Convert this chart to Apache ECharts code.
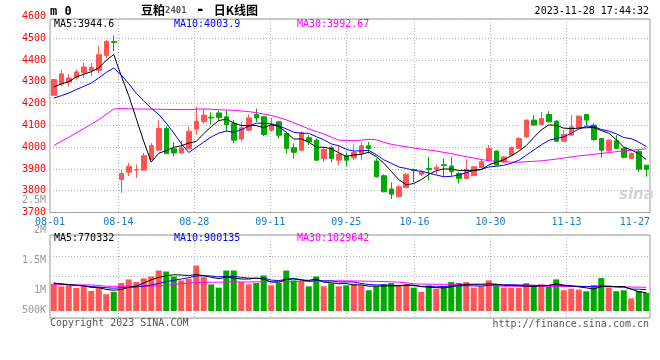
<!DOCTYPE html>
<html><head><meta charset="utf-8">
<script src="https://cdn.jsdelivr.net/npm/echarts@6/dist/echarts.min.js"></script>
<style>html,body{margin:0;padding:0;background:#fff}#c{width:660px;height:360px}</style>
</head><body><div id="c"></div>
<script>
// ---------------- data ----------------
const dates = ['08-01','08-02','08-03','08-04','08-07','08-08','08-09','08-10','08-11','08-14',
'08-15','08-16','08-17','08-18','08-21','08-22','08-23','08-24','08-25','08-28',
'08-29','08-30','08-31','09-01','09-04','09-05','09-06','09-07','09-08','09-11',
'09-12','09-13','09-14','09-15','09-18','09-19','09-20','09-21','09-22','09-25',
'09-26','09-27','09-28','10-09','10-10','10-11','10-12','10-13','10-16','10-17',
'10-18','10-19','10-20','10-23','10-24','10-25','10-26','10-27','10-30','10-31',
'11-01','11-02','11-03','11-06','11-07','11-08','11-09','11-10','11-13','11-14',
'11-15','11-16','11-17','11-20','11-21','11-22','11-23','11-24','11-27','11-28'];
const opens = [4238,4291,4299,4320,4343,4352,4352,4420,4484,3851,
3885,3895,3894,3943,3986,4085,3992,3973,3992,4083,
4116,4137,4157,4139,4108,4037,4078,4150,4139,4078,
4116,4063,3997,3986,4043,4032,3948,3997,3940,3960,
3951,3971,4006,3936,3869,3808,3772,3814,3896,3875,
3902,3899,3919,3913,3879,3856,3870,3907,3940,3982,
3932,3963,3994,4047,4124,4104,4150,4119,4027,4055,
4090,4150,4101,4040,3983,4029,3994,3948,3981,3917];
const closes = [4310,4336,4317,4345,4368,4366,4424,4485,4480,3879,
3912,3897,3961,4007,4085,3970,3973,3996,4073,4119,
4147,4134,4136,4104,4032,4089,4134,4134,4058,4101,
4055,3994,3976,4066,4024,3940,3989,3948,3968,3940,
3975,4006,3994,3864,3795,3784,3818,3875,3893,3887,
3898,3907,3915,3887,3856,3898,3910,3933,3994,3918,
3955,3998,4040,4124,4101,4131,4116,4027,4058,4093,
4142,4124,4035,3986,4032,3994,3953,3971,3899,3898];
const lows = [4236,4280,4279,4310,4317,4325,4340,4410,4440,3790,
3867,3859,3894,3943,3986,3970,3958,3973,3992,4057,
4108,4103,4124,4073,4017,4025,4073,4116,4050,4070,
4040,3971,3948,3982,4009,3936,3933,3930,3917,3913,
3940,3940,3971,3860,3792,3762,3768,3812,3838,3868,
3848,3875,3864,3869,3833,3853,3866,3905,3936,3916,
3928,3960,3990,4043,4100,4102,4115,4024,4024,4055,
4088,4098,4027,3951,3980,3993,3948,3945,3887,3864];
const highs = [4312,4352,4335,4355,4386,4386,4462,4493,4511,3897,
3928,3920,3973,4019,4123,4096,4022,4030,4093,4187,
4175,4160,4167,4169,4124,4116,4150,4177,4144,4134,
4119,4070,4017,4073,4055,4040,4001,4006,4006,3975,
4012,4021,4024,3948,3875,3838,3826,3880,3902,3893,
3956,3920,3948,3956,3887,3945,3912,3945,4010,3984,
3960,4003,4045,4127,4147,4162,4165,4124,4078,4147,
4145,4150,4108,4040,4035,4055,4001,3975,3986,3918];
const ma5 = [4276,4290,4300,4322,4335,4346,4364,4398,4425,4327,
4236,4131,4026,3931,3972,3984,3999,4006,4019,4026,
4062,4094,4122,4128,4111,4099,4099,4099,4089,4103,
4096,4068,4037,4038,4023,4000,3999,3993,3974,3957,
3964,3967,3977,3956,3927,3889,3851,3827,3833,3851,
3874,3892,3900,3899,3893,3893,3893,3897,3918,3931,
3942,3960,3981,4007,4044,4079,4102,4100,4087,4085,
4087,4089,4090,4076,4064,4034,4000,3987,3970,3943];
const ma10 = [4225,4236,4248,4264,4279,4294,4317,4343,4363,4331,
4291,4247,4212,4178,4150,4110,4065,4016,3975,3999,
4023,4047,4064,4074,4068,4080,4096,4110,4109,4107,
4098,4084,4068,4064,4063,4048,4034,4015,4006,3990,
3982,3983,3985,3965,3942,3926,3909,3902,3894,3889,
3881,3872,3864,3866,3872,3883,3893,3898,3909,3912,
3917,3926,3939,3963,3987,4010,4031,4040,4047,4064,
4083,4096,4095,4081,4074,4061,4044,4039,4023,4003];
const ma30 = [4007,4026,4045,4065,4085,4105,4126,4150,4175,4177,
4176,4175,4175,4174,4174,4173,4173,4172,4172,4174,
4175,4174,4172,4170,4169,4166,4163,4158,4152,4145,
4136,4125,4112,4098,4084,4072,4060,4046,4032,4030,
4030,4032,4036,4034,4022,4013,4007,4002,3996,3991,
3987,3982,3976,3970,3963,3956,3950,3943,3938,3935,
3933,3931,3931,3933,3935,3937,3941,3945,3950,3955,
3960,3963,3967,3971,3975,3979,3983,3986,3989,3992];
// volume in thousands
const volumesK = [1187,1071,1114,1000,1071,871,1014,729,829,1214,
1371,1257,1414,1500,1757,1714,1500,1329,1400,1971,
1471,1157,1014,1757,1757,1257,1157,1214,1543,1114,
1214,1757,1329,1286,1071,1500,1071,1200,1071,1114,
1186,1114,900,1071,1157,1214,1071,1157,1014,829,
1114,971,1071,1257,1214,1257,1014,1071,1329,1157,
1014,1000,1000,1214,1114,1157,1071,1371,900,971,
928,857,1114,1429,1014,857,900,543,871,786];
const volMa5K = [1210,1170,1140,1110,1089,1025,1014,937,903,931,
1031,1080,1217,1351,1460,1528,1577,1560,1540,1583,
1534,1466,1403,1474,1431,1388,1388,1428,1386,1257,
1248,1368,1391,1340,1331,1389,1251,1226,1183,1191,
1128,1137,1077,1077,1086,1091,1083,1134,1123,1057,
1037,1017,1000,1048,1125,1154,1163,1163,1177,1166,
1117,1114,1100,1077,1068,1097,1111,1185,1123,1094,
1048,1005,954,1060,1068,1054,1063,949,837,791];
const volMa10K = [1210,1180,1150,1120,1090,1060,1040,1010,990,1010,
1028,1047,1077,1127,1196,1280,1329,1389,1446,1521,
1531,1521,1481,1507,1507,1461,1427,1416,1430,1344,
1318,1378,1410,1363,1294,1319,1310,1309,1261,1261,
1259,1194,1151,1130,1138,1110,1110,1106,1100,1071,
1064,1050,1067,1086,1091,1096,1090,1081,1113,1146,
1136,1138,1131,1127,1117,1107,1113,1143,1100,1081,
1073,1058,1070,1091,1081,1051,1034,951,948,930];
const volMa30K = [1143,1140,1138,1135,1133,1130,1110,1075,1072,1070,
1070,1072,1075,1080,1090,1110,1150,1190,1210,1230,
1240,1250,1250,1255,1260,1260,1262,1265,1268,1270,
1272,1275,1280,1285,1290,1295,1300,1305,1310,1310,
1305,1300,1290,1285,1280,1270,1250,1220,1180,1170,
1165,1160,1160,1158,1155,1152,1150,1140,1120,1090,
1080,1075,1075,1072,1072,1070,1070,1068,1068,1066,
1065,1063,1060,1058,1055,1050,1045,1040,1035,1030];
const dateTicks = ['08-01','08-14','08-28','09-11','09-25','10-16','10-30','11-13','11-27'];
const priceTicks = [3700,3800,3900,4000,4100,4200,4300,4400,4500,4600];
const volTickValuesK = [500,1000,1500,2000,2500];
const volTickLabels = ['500K','1M','1.5M','2M','2.5M'];
const priceLegend = [['MA5', '3944.6'], ['MA10', '4003.9'], ['MA30', '3992.67']];
const volLegend = [['MA5', '770332'], ['MA10', '900135'], ['MA30', '1029642']];
const chartTitle = ['豆粕', '2401', ' - ', '日K线图'];
const timestamp = '2023-11-28 17:44:32';

// ---------------- style ----------------
const MONO = "'DejaVu Sans Mono', monospace";
const RED = '#ff5555', GREEN = '#00a800';
const GRIDC = '#b4b4b4', BORDER = '#9a9a9a';
const LABEL_BLUE = '#1a7ccc';
const maColors = ['#000000', '#0000ff', '#ff00ff'];
const labelSet = new Set(dateTicks);
const gridSet = new Set(dateTicks.slice(1, dateTicks.length - 1));
const lastTick = dateTicks[dateTicks.length - 1];
const volLabelFloorK = 667; // lowest label sits at the bar baseline

const chart = echarts.init(document.getElementById('c'), null, {renderer: 'canvas'});

const ohlc = dates.map((d, i) => [opens[i], closes[i], lows[i], highs[i]]);
const volData = volumesK.map((v, i) => ({
  value: v,
  itemStyle: {color: closes[i] >= opens[i] ? RED : GREEN}
}));

function legendTitles(items, top) {
  const lefts = [54, 174, 297];
  return items.map((it, k) => ({
    text: it[0] + ':' + it[1], left: lefts[k], top: top, padding: 0,
    textStyle: {fontSize: 10, fontWeight: 'normal', fontFamily: MONO, color: maColors[k]}
  }));
}

const dotted = {color: GRIDC, type: [1, 2], width: 1};

const option = {
  animation: false,
  backgroundColor: '#ffffff',
  textStyle: {fontFamily: MONO},
  title: [
    {text: 'm 0', left: 50, top: 6, padding: 0,
     textStyle: {fontSize: 12, fontWeight: 'bold', fontFamily: MONO, color: '#000'}},
    {text: '{a|' + chartTitle[0] + '}{b|' + chartTitle[1] + '}{c|' + chartTitle[2] + '}{a|' + chartTitle[3] + '}',
     left: 141, top: 3, padding: 0,
     textStyle: {rich: {
       a: {fontSize: 12, fontFamily: "'Noto Sans CJK SC'", color: '#000'},
       b: {fontSize: 9, fontFamily: MONO, color: '#555'},
       c: {fontSize: 15, fontFamily: MONO, color: '#000'}
     }}},
    {text: timestamp, right: 11, top: 6, padding: 0,
     textStyle: {fontSize: 10, fontWeight: 'normal', fontFamily: MONO, color: '#000'}},
    ...legendTitles(priceLegend, 19),
    ...legendTitles(volLegend, 233),
    {text: 'Copyright 2023 SINA.COM', left: 50, top: 318, padding: 0,
     textStyle: {fontSize: 10, fontWeight: 'normal', fontFamily: MONO, color: '#555'}},
    {text: 'http://finance.sina.com.cn', right: 11, top: 319, padding: 0,
     textStyle: {fontSize: 10, fontWeight: 'normal', fontFamily: MONO, color: '#555'}}
  ],
  graphic: [
    {type: 'text', left: 619, top: 188, z: 0, silent: true,
     style: {text: 'sina', font: "italic bold 15px 'DejaVu Sans'", fill: '#d4d4d4'}}
  ],
  grid: [
    {left: 50, right: 10, top: 19, bottom: 147.5, show: true, borderColor: BORDER, borderWidth: 1, backgroundColor: 'transparent'},
    {left: 50, right: 10, top: 16.5, bottom: 147.5},
    {left: 50, right: 10, top: 235, bottom: 42, show: true, borderColor: BORDER, borderWidth: 1, backgroundColor: 'transparent'},
    {left: 50, right: 10, top: 235, bottom: 49},
    {left: 50, right: 10, top: 200.5, bottom: 39.5}
  ],
  xAxis: [
    {gridIndex: 0, type: 'category', data: dates, boundaryGap: true, show: false},
    {gridIndex: 0, type: 'category', data: dates, boundaryGap: false, position: 'bottom',
     axisLine: {show: false}, axisTick: {show: false},
     axisLabel: {
       interval: (i, v) => labelSet.has(v),
       formatter: v => v === lastTick ? '{r|' + v + '}' : v,
       color: LABEL_BLUE, fontSize: 10, fontFamily: MONO, margin: 5,
       rich: {r: {padding: [0, 15, 0, 0], color: LABEL_BLUE, fontSize: 10, fontFamily: MONO}}
     },
     splitLine: {show: true, interval: (i, v) => gridSet.has(v), lineStyle: dotted}},
    {gridIndex: 2, type: 'category', data: dates, boundaryGap: false,
     axisLine: {show: false}, axisTick: {show: false}, axisLabel: {show: false},
     splitLine: {show: true, interval: (i, v) => gridSet.has(v), lineStyle: dotted}},
    {gridIndex: 3, type: 'category', data: dates, boundaryGap: true, show: false},
    {gridIndex: 1, type: 'value', min: 0, max: 1, show: false},
    {gridIndex: 4, type: 'value', min: 0, max: 1, show: false}
  ],
  yAxis: [
    {gridIndex: 0, type: 'value', min: priceTicks[0], max: 4588, interval: 100,
     axisLine: {show: false}, axisTick: {show: false}, axisLabel: {show: false},
     splitLine: {show: true, lineStyle: dotted}},
    {gridIndex: 1, type: 'value', min: priceTicks[0], max: priceTicks[priceTicks.length - 1], interval: 100,
     axisLine: {show: false}, axisTick: {show: false}, splitLine: {show: false},
     axisLabel: {color: '#ff0000', fontSize: 10, fontFamily: MONO, margin: 4,
                 formatter: v => String(Math.round(v))}},
    {gridIndex: 2, type: 'value', min: 0, max: 4, interval: 1,
     axisLine: {show: false}, axisTick: {show: false}, axisLabel: {show: false},
     splitLine: {show: true, lineStyle: dotted}},
    {gridIndex: 3, type: 'value', min: 0, max: 3300, show: false},
    {gridIndex: 4, type: 'value', min: volTickValuesK[0], max: volTickValuesK[volTickValuesK.length - 1],
     axisLine: {show: false}, axisTick: {show: false}, splitLine: {show: false},
     axisLabel: {
       customValues: volTickValuesK.map(v => Math.max(v, volLabelFloorK)),
       formatter: v => {
         let best = 0;
         volTickValuesK.forEach((t, k) => {
           if (Math.abs(Math.max(t, volLabelFloorK) - v) < Math.abs(Math.max(volTickValuesK[best], volLabelFloorK) - v)) best = k;
         });
         return volTickLabels[best];
       },
       color: '#999999', fontSize: 10, fontFamily: MONO, margin: 4
     }}
  ],
  series: [
    {type: 'candlestick', xAxisIndex: 0, yAxisIndex: 0, data: ohlc, barWidth: 5,
     itemStyle: {color: RED, color0: GREEN, borderColor: RED, borderColor0: GREEN, borderWidth: 1}},
    {type: 'line', xAxisIndex: 0, yAxisIndex: 0, data: ma30, showSymbol: false, symbol: 'none',
     lineStyle: {color: maColors[2], width: 1}},
    {type: 'line', xAxisIndex: 0, yAxisIndex: 0, data: ma10, showSymbol: false, symbol: 'none',
     lineStyle: {color: maColors[1], width: 1}},
    {type: 'line', xAxisIndex: 0, yAxisIndex: 0, data: ma5, showSymbol: false, symbol: 'none',
     lineStyle: {color: maColors[0], width: 1}},
    {type: 'bar', xAxisIndex: 3, yAxisIndex: 3, data: volData, barWidth: 6},
    {type: 'line', xAxisIndex: 3, yAxisIndex: 3, data: volMa30K, showSymbol: false, symbol: 'none',
     lineStyle: {color: maColors[2], width: 1}},
    {type: 'line', xAxisIndex: 3, yAxisIndex: 3, data: volMa10K, showSymbol: false, symbol: 'none',
     lineStyle: {color: maColors[1], width: 1}},
    {type: 'line', xAxisIndex: 3, yAxisIndex: 3, data: volMa5K, showSymbol: false, symbol: 'none',
     lineStyle: {color: maColors[0], width: 1}}
  ]
};
chart.setOption(option);
</script>
</body></html>
